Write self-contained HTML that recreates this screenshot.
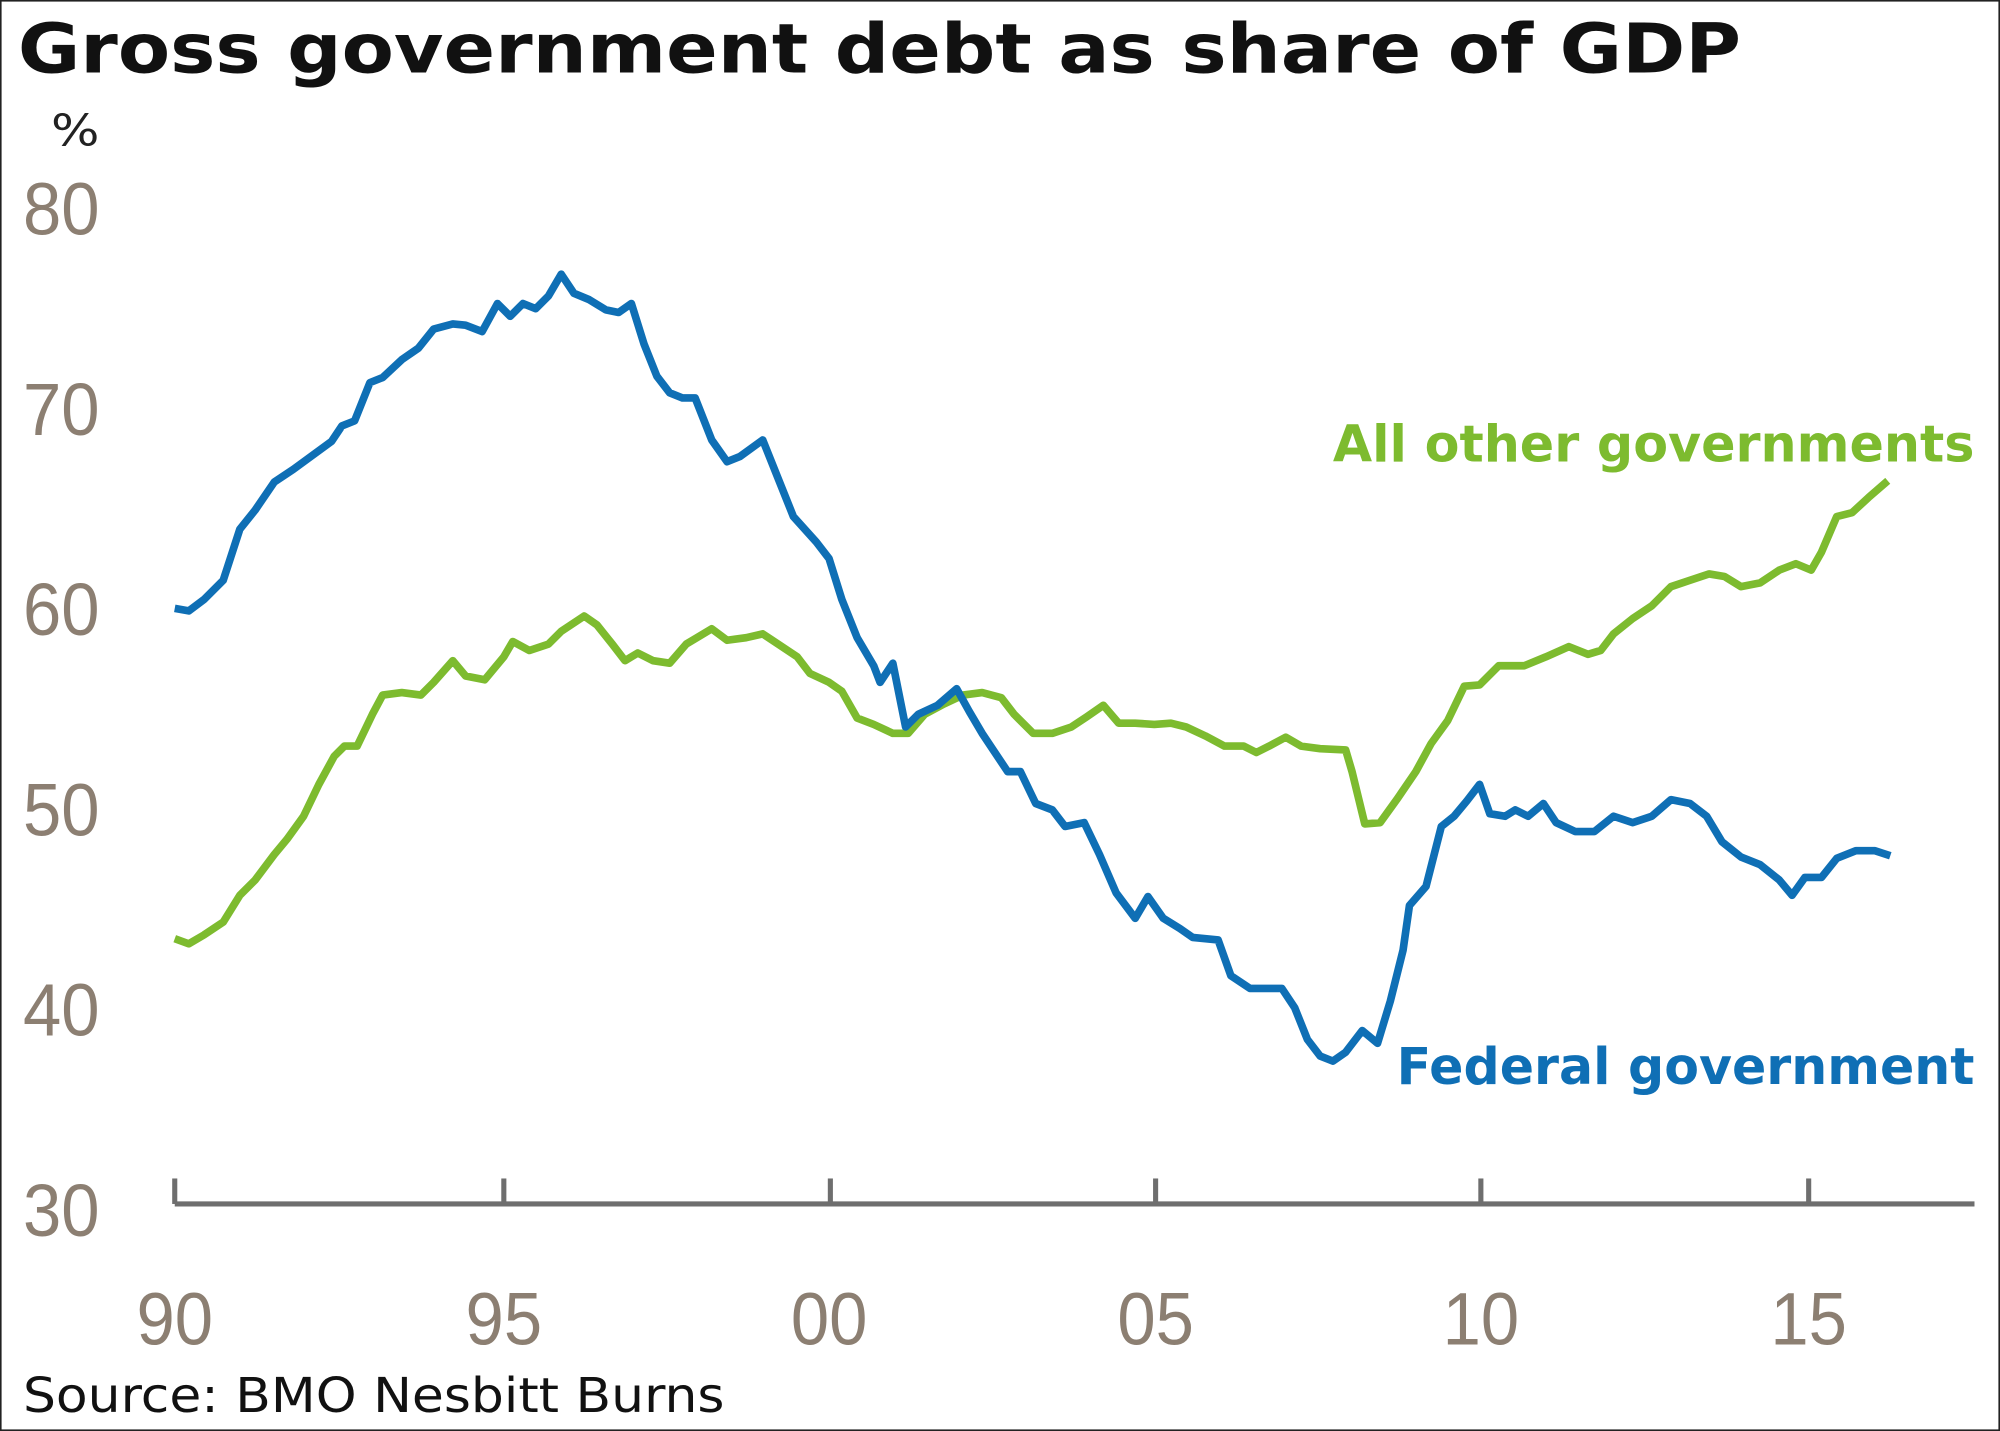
<!DOCTYPE html>
<html><head><meta charset="utf-8"><style>
html,body{margin:0;padding:0;background:#fff}
svg{display:block}
</style></head><body>
<svg width="2000" height="1431" viewBox="0 0 1568 1122" preserveAspectRatio="none" xmlns="http://www.w3.org/2000/svg">
<rect x="0.5" y="0.5" width="1567" height="1121" fill="#fff" stroke="#222" stroke-width="1.5"/>
<text x="14" y="57" font-family="DejaVu Sans, Liberation Sans, sans-serif" font-weight="bold" font-size="54" fill="#111" textLength="1351" lengthAdjust="spacingAndGlyphs">Gross government debt as share of GDP</text>
<text x="40" y="114" font-family="DejaVu Sans, sans-serif" font-size="34" fill="#222" textLength="38" lengthAdjust="spacingAndGlyphs">%</text>
<g font-family="Liberation Sans, sans-serif" font-size="58" fill="#8c7f72">
<text x="18" y="184" textLength="60" lengthAdjust="spacingAndGlyphs">80</text>
<text x="18" y="341" textLength="60" lengthAdjust="spacingAndGlyphs">70</text>
<text x="18" y="498" textLength="60" lengthAdjust="spacingAndGlyphs">60</text>
<text x="18" y="655" textLength="60" lengthAdjust="spacingAndGlyphs">50</text>
<text x="18" y="812" textLength="60" lengthAdjust="spacingAndGlyphs">40</text>
<text x="18" y="969" textLength="60" lengthAdjust="spacingAndGlyphs">30</text>
<text x="107" y="1054" textLength="60" lengthAdjust="spacingAndGlyphs">90</text>
<text x="365" y="1054" textLength="60" lengthAdjust="spacingAndGlyphs">95</text>
<text x="620" y="1054" textLength="60" lengthAdjust="spacingAndGlyphs">00</text>
<text x="876" y="1054" textLength="60" lengthAdjust="spacingAndGlyphs">05</text>
<text x="1131" y="1054" textLength="60" lengthAdjust="spacingAndGlyphs">10</text>
<text x="1388" y="1054" textLength="60" lengthAdjust="spacingAndGlyphs">15</text>
</g>
<g stroke="#6e6e6e" stroke-width="4" fill="none">
<line x1="137" y1="944" x2="1548" y2="944"/>
<line x1="137" y1="944" x2="137" y2="924"/>
<line x1="395" y1="944" x2="395" y2="924"/>
<line x1="651" y1="944" x2="651" y2="924"/>
<line x1="906" y1="944" x2="906" y2="924"/>
<line x1="1161" y1="944" x2="1161" y2="924"/>
<line x1="1418" y1="944" x2="1418" y2="924"/>
</g>
<polyline fill="none" stroke="#7dbb2f" stroke-width="6" stroke-linejoin="round" points="137,736 148,740 160,733 175,723 188,702 200,690 215,670 225,658 238,640 250,615 262,593 270,585 280,585 292,560 300,545 315,543 330,545 340,535 355,518 365,530 380,533 395,515 402,503 415,510 430,505 440,495 458,483 468,490 480,505 490,518 500,512 512,518 525,520 538,505 558,493 570,502 585,500 598,497 610,505 625,515 635,528 650,535 660,542 672,563 685,568 700,575 712,575 725,560 740,552 755,545 770,543 785,547 795,560 810,575 825,575 840,570 852,562 865,553 877,567 890,567 905,568 918,567 930,570 945,577 960,585 975,585 985,590 995,585 1008,578 1020,585 1035,587 1055,588 1060,605 1070,646 1082,645 1095,627 1110,605 1122,583 1135,565 1148,538 1160,537 1175,522 1195,522 1212,515 1230,507 1245,513 1255,510 1265,497 1280,485 1295,475 1310,460 1325,455 1340,450 1352,452 1365,460 1380,457 1395,447 1408,442 1420,447 1428,433 1440,405 1452,402 1465,390 1480,377"/>
<polyline fill="none" stroke="#0f6fb5" stroke-width="6" stroke-linejoin="round" points="137,477 148,479 160,470 175,455 188,415 200,400 215,378 230,368 245,357 260,346 268,334 278,330 290,300 300,296 315,282 328,273 340,258 355,254 365,255 378,260 390,238 400,248 410,238 420,242 430,232 440,215 450,230 462,235 475,243 485,245 495,238 505,270 515,295 525,308 535,312 545,312 558,345 570,362 580,358 598,345 610,375 622,405 640,425 650,438 660,470 672,500 685,522 690,535 700,520 710,570 720,560 735,553 750,540 760,558 770,575 780,590 790,605 800,605 812,630 825,635 835,648 850,645 862,670 875,700 890,720 900,703 912,720 925,728 935,735 955,737 965,765 980,775 995,775 1005,775 1015,790 1025,815 1035,828 1045,832 1055,825 1068,808 1080,818 1090,785 1100,745 1105,710 1118,695 1130,648 1140,640 1150,628 1160,615 1168,638 1180,640 1188,635 1198,640 1210,630 1220,645 1235,652 1250,652 1265,640 1280,645 1295,640 1310,627 1325,630 1338,640 1350,660 1365,672 1380,678 1395,690 1405,702 1415,688 1428,688 1440,673 1455,667 1470,667 1482,671"/>
<text x="1045" y="362" font-family="DejaVu Sans, sans-serif" font-weight="bold" font-size="40" fill="#7dbb2f" textLength="503" lengthAdjust="spacingAndGlyphs">All other governments</text>
<text x="1095" y="850" font-family="DejaVu Sans, sans-serif" font-weight="bold" font-size="40" fill="#0f6fb5" textLength="453" lengthAdjust="spacingAndGlyphs">Federal government</text>
<text x="18" y="1107" font-family="DejaVu Sans, sans-serif" font-size="38" fill="#111" textLength="550" lengthAdjust="spacingAndGlyphs">Source: BMO Nesbitt Burns</text>
</svg>
</body></html>
